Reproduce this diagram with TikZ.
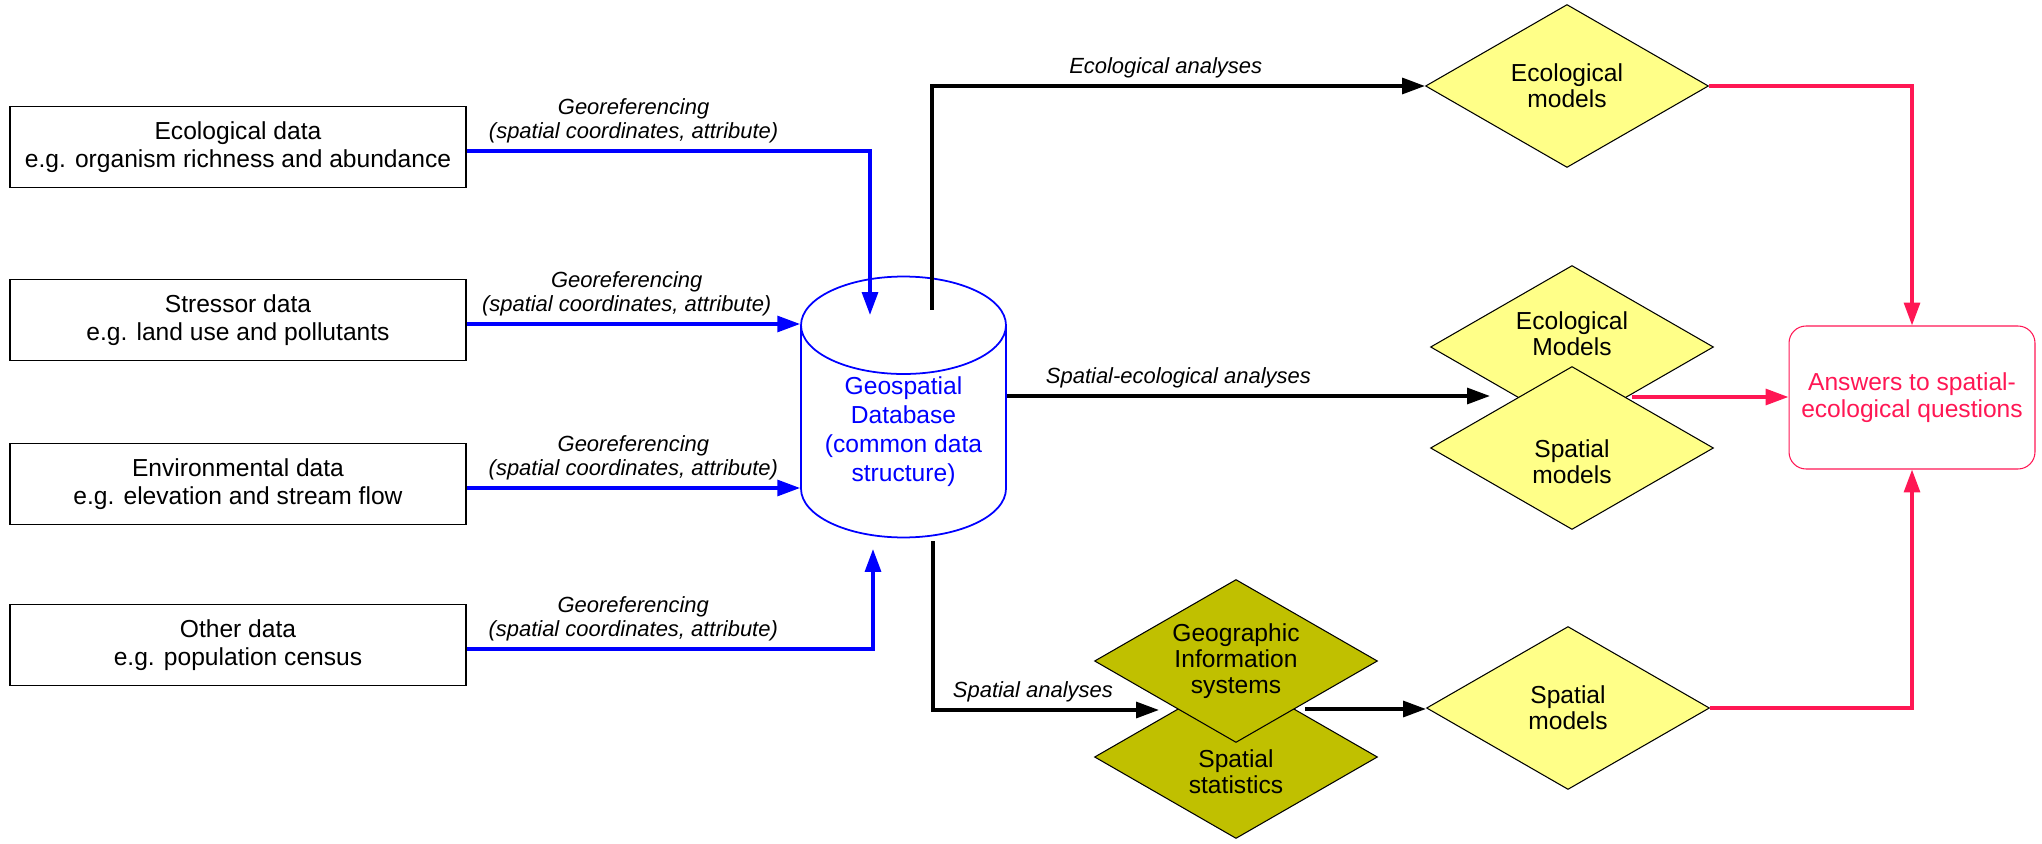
\documentclass[tikz,border=0pt]{standalone}
\usepackage{fontspec}
\setmainfont{Liberation Sans}
\usetikzlibrary{arrows.meta,shapes.geometric}
\definecolor{georef}{RGB}{0,0,255}
\definecolor{answer}{RGB}{255,23,84}
\definecolor{modelfill}{RGB}{255,255,136}
\definecolor{gisfill}{RGB}{192,192,0}

\begin{document}
\begin{tikzpicture}[x=0.02cm,y=-0.02cm,
  databox/.style={draw,line width=0.75pt,minimum width=9.12cm,minimum height=1.62cm,align=center,font=\fontsize{14}{16}\selectfont},
  lbl/.style={font=\fontsize{12.5}{13.6}\selectfont\itshape,align=center},
  model/.style={diamond,draw,line width=0.6pt,fill=modelfill,aspect=1.736,minimum width=5.66cm,minimum height=3.26cm,inner sep=0pt,align=center,font=\fontsize{14}{15}\selectfont},
  gismodel/.style={model,fill=gisfill},
  modeltext/.style={align=center,font=\fontsize{14}{15}\selectfont},
  geo/.style={draw=georef,line width=2pt,-{Triangle[length=13pt,width=9pt]}},
  ana/.style={draw=black,line width=2pt,-{Triangle[length=13pt,width=9pt]}},
  answerline/.style={draw=answer,line width=2pt,-{Triangle[length=13pt,width=9pt]}}]
\useasboundingbox (0,0) rectangle (2042,844);

% data sources
\node[databox] (eco) at (238,147) {Ecological data\\e.g. organism richness and abundance};
\node[databox] (str) at (238,320) {Stressor data\\e.g. land use and pollutants};
\node[databox] (env) at (238,484) {Environmental data\\e.g. elevation and stream flow};
\node[databox] (oth) at (238,645) {Other data\\e.g. population census};

% database
\node[cylinder,shape border rotate=90,draw=georef,line width=1pt,aspect=0.62,
  minimum width=4.1cm,minimum height=5.22cm,inner sep=0pt,align=center,text=georef,
  font=\fontsize{14}{16.5}\selectfont,anchor=shape center] (db) at (903.5,407)
  {Geospatial\\Database\\(common data\\structure)};
\coordinate (dbin) at (870,315);
\coordinate (dbout) at (873,549);
\coordinate (dbup) at (932,310);
\coordinate (dbdown) at (933,541);

% models
\node[model] (ecotop) at (1567,86) {Ecological\\models};
\node[model] (ecomid) at (1572,347) {};
\node[modeltext] at ([yshift=0.26cm]ecomid.center) {Ecological\\Models};
\node[model] (spmid) at (1572,448) {};
\node[modeltext] at ([yshift=-0.28cm]spmid.center) {Spatial\\models};
\node[gismodel] (stat) at (1236,757) {};
\node[modeltext] at ([yshift=-0.3cm]stat.center) {Spatial\\statistics};
\node[gismodel] (gis) at (1236,661) {Geographic\\Information\\systems};
\node[model] (spbot) at (1568,708) {Spatial\\models};
\coordinate (seqin) at (1490,396);
\coordinate (seqout) at (1632,397);
\coordinate (gisin) at (1159,710);
\coordinate (gisout) at (1305,709);

% answers
\node[draw=answer,line width=0.6pt,rounded corners=0.34cm,minimum width=4.92cm,minimum height=2.86cm,
  align=center,text=answer,font=\fontsize{14}{15.5}\selectfont] (answers) at (1912,397.5)
  {Answers to spatial-\\ecological questions};

% georeferencing
\draw[geo] ([yshift=-0.08cm]eco.east) -| node[lbl,above,pos=0.207] {Georeferencing\\(spatial coordinates, attribute)} (dbin);
\draw[geo] ([yshift=-0.08cm]str.east) -- node[lbl,above,pos=0.48] {Georeferencing\\(spatial coordinates, attribute)} ([yshift=-0.08cm]str.east -| db.west);
\draw[geo] ([yshift=-0.08cm]env.east) -- node[lbl,above,pos=0.5] {Georeferencing\\(spatial coordinates, attribute)} ([yshift=-0.08cm]env.east -| db.west);
\draw[geo] ([yshift=-0.08cm]oth.east) -| node[lbl,above,pos=0.205] {Georeferencing\\(spatial coordinates, attribute)} (dbout);

% analyses
\draw[ana] (dbup) |- node[lbl,above,pos=0.737] {Ecological analyses} (ecotop.west);
\draw[ana] (seqin -| db.east) -- node[lbl,above,pos=0.355] {Spatial-ecological analyses} (seqin);
\draw[ana] (dbdown) |- node[lbl,above,pos=0.721] {Spatial analyses} (gisin);
\draw[ana] (gisout) -- (gisout -| spbot.west);

% answers
\draw[answerline] (ecotop.east) -| (answers.north);
\draw[answerline] (seqout) -- (answers.west |- seqout);
\draw[answerline] (spbot.east) -| (answers.south);
\end{tikzpicture}
\end{document}
